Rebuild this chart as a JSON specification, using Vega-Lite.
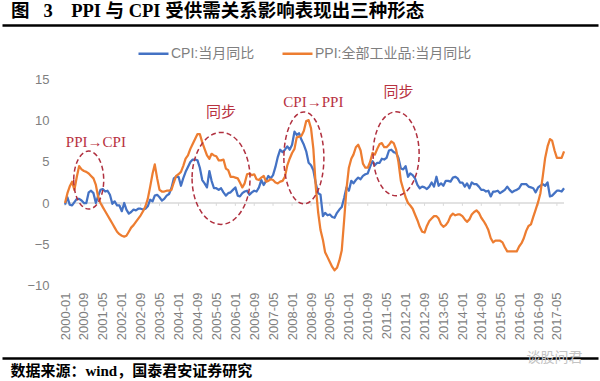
{
  "$schema": "https://vega.github.io/schema/vega-lite/v6.json",
  "width": 596,
  "height": 333,
  "autosize": {"type": "none"},
  "padding": {"left": 2, "top": 25, "right": 2, "bottom": 23},
  "background": "#ffffff",
  "title": {
    "text": "图\u2002\u00a03\u2002\u00a0\u00a0PPI 与 CPI 受供需关系影响表现出三种形态",
    "anchor": "start",
    "frame": "group",
    "dx": 9,
    "dy": 18,
    "offset": 4,
    "baseline": "bottom",
    "fontSize": 18.5,
    "font": "Liberation Serif, Noto Sans CJK SC",
    "fontWeight": "bold",
    "color": "#000000"
  },
  "config": {
    "view": {"stroke": null},
    "axis": {"grid": false}
  },
  "datasets": {
    "main": [
      {"m":"2000-01","cpi":-0.2,"ppi":0.0},{"m":"2000-02","cpi":0.7,"ppi":1.2},{"m":"2000-03","cpi":-0.2,"ppi":2.0},{"m":"2000-04","cpi":-0.3,"ppi":2.6},{"m":"2000-05","cpi":0.1,"ppi":1.6},{"m":"2000-06","cpi":0.5,"ppi":3.2},{"m":"2000-07","cpi":0.5,"ppi":4.5},{"m":"2000-08","cpi":0.3,"ppi":4.1},{"m":"2000-09","cpi":0.0,"ppi":3.9},{"m":"2000-10","cpi":0.0,"ppi":3.8},{"m":"2000-11","cpi":1.3,"ppi":3.6},{"m":"2000-12","cpi":1.5,"ppi":3.3},
      {"m":"2001-01","cpi":1.2,"ppi":3.0},{"m":"2001-02","cpi":0.0,"ppi":2.2},{"m":"2001-03","cpi":0.8,"ppi":0.8},{"m":"2001-04","cpi":1.6,"ppi":0.0},{"m":"2001-05","cpi":1.7,"ppi":-0.5},{"m":"2001-06","cpi":1.4,"ppi":-1.0},{"m":"2001-07","cpi":1.5,"ppi":-1.5},{"m":"2001-08","cpi":1.0,"ppi":-2.0},{"m":"2001-09","cpi":-0.1,"ppi":-2.5},{"m":"2001-10","cpi":0.2,"ppi":-3.0},{"m":"2001-11","cpi":-0.3,"ppi":-3.5},{"m":"2001-12","cpi":-0.3,"ppi":-3.8},
      {"m":"2002-01","cpi":-1.0,"ppi":-4.0},{"m":"2002-02","cpi":0.0,"ppi":-4.1},{"m":"2002-03","cpi":-0.8,"ppi":-4.0},{"m":"2002-04","cpi":-1.3,"ppi":-3.5},{"m":"2002-05","cpi":-1.1,"ppi":-3.0},{"m":"2002-06","cpi":-0.8,"ppi":-2.7},{"m":"2002-07","cpi":-0.9,"ppi":-2.3},{"m":"2002-08","cpi":-0.7,"ppi":-1.9},{"m":"2002-09","cpi":-0.7,"ppi":-1.5},{"m":"2002-10","cpi":-0.8,"ppi":-1.0},{"m":"2002-11","cpi":-0.7,"ppi":-0.4},{"m":"2002-12","cpi":-0.4,"ppi":0.5},
      {"m":"2003-01","cpi":0.4,"ppi":2.0},{"m":"2003-02","cpi":0.2,"ppi":3.6},{"m":"2003-03","cpi":0.9,"ppi":4.7},{"m":"2003-04","cpi":1.0,"ppi":3.0},{"m":"2003-05","cpi":0.7,"ppi":1.6},{"m":"2003-06","cpi":0.3,"ppi":1.4},{"m":"2003-07","cpi":0.5,"ppi":1.4},{"m":"2003-08","cpi":0.9,"ppi":1.5},{"m":"2003-09","cpi":1.1,"ppi":1.5},{"m":"2003-10","cpi":1.8,"ppi":1.6},{"m":"2003-11","cpi":3.0,"ppi":2.5},{"m":"2003-12","cpi":3.2,"ppi":3.3},
      {"m":"2004-01","cpi":3.2,"ppi":3.5},{"m":"2004-02","cpi":2.1,"ppi":3.8},{"m":"2004-03","cpi":3.0,"ppi":4.5},{"m":"2004-04","cpi":3.8,"ppi":5.4},{"m":"2004-05","cpi":4.4,"ppi":5.8},{"m":"2004-06","cpi":5.0,"ppi":6.6},{"m":"2004-07","cpi":5.3,"ppi":7.2},{"m":"2004-08","cpi":5.3,"ppi":7.8},{"m":"2004-09","cpi":5.2,"ppi":8.4},{"m":"2004-10","cpi":4.3,"ppi":8.4},{"m":"2004-11","cpi":2.8,"ppi":7.4},{"m":"2004-12","cpi":2.4,"ppi":6.6},
      {"m":"2005-01","cpi":1.9,"ppi":5.8},{"m":"2005-02","cpi":3.9,"ppi":5.4},{"m":"2005-03","cpi":2.7,"ppi":6.0},{"m":"2005-04","cpi":1.8,"ppi":5.8},{"m":"2005-05","cpi":1.8,"ppi":5.7},{"m":"2005-06","cpi":1.6,"ppi":5.2},{"m":"2005-07","cpi":1.8,"ppi":5.2},{"m":"2005-08","cpi":1.3,"ppi":5.3},{"m":"2005-09","cpi":0.9,"ppi":4.2},{"m":"2005-10","cpi":1.2,"ppi":4.0},{"m":"2005-11","cpi":1.3,"ppi":3.2},{"m":"2005-12","cpi":1.6,"ppi":3.2},
      {"m":"2006-01","cpi":1.9,"ppi":3.1},{"m":"2006-02","cpi":0.9,"ppi":3.0},{"m":"2006-03","cpi":0.8,"ppi":2.5},{"m":"2006-04","cpi":1.2,"ppi":1.9},{"m":"2006-05","cpi":1.4,"ppi":2.4},{"m":"2006-06","cpi":1.5,"ppi":3.5},{"m":"2006-07","cpi":1.0,"ppi":3.6},{"m":"2006-08","cpi":1.3,"ppi":3.4},{"m":"2006-09","cpi":1.5,"ppi":3.5},{"m":"2006-10","cpi":1.4,"ppi":2.9},{"m":"2006-11","cpi":1.9,"ppi":2.8},{"m":"2006-12","cpi":2.8,"ppi":3.1},
      {"m":"2007-01","cpi":2.2,"ppi":3.3},{"m":"2007-02","cpi":2.7,"ppi":2.6},{"m":"2007-03","cpi":3.3,"ppi":2.7},{"m":"2007-04","cpi":3.0,"ppi":2.9},{"m":"2007-05","cpi":3.4,"ppi":2.8},{"m":"2007-06","cpi":4.4,"ppi":2.5},{"m":"2007-07","cpi":5.6,"ppi":2.4},{"m":"2007-08","cpi":6.5,"ppi":2.6},{"m":"2007-09","cpi":6.2,"ppi":2.7},{"m":"2007-10","cpi":6.5,"ppi":3.2},{"m":"2007-11","cpi":6.9,"ppi":4.6},{"m":"2007-12","cpi":6.5,"ppi":5.4},
      {"m":"2008-01","cpi":7.1,"ppi":6.1},{"m":"2008-02","cpi":8.7,"ppi":6.6},{"m":"2008-03","cpi":8.3,"ppi":8.0},{"m":"2008-04","cpi":8.5,"ppi":8.1},{"m":"2008-05","cpi":7.7,"ppi":8.2},{"m":"2008-06","cpi":7.1,"ppi":8.8},{"m":"2008-07","cpi":6.3,"ppi":10.0},{"m":"2008-08","cpi":4.9,"ppi":10.1},{"m":"2008-09","cpi":4.6,"ppi":9.1},{"m":"2008-10","cpi":4.0,"ppi":6.6},{"m":"2008-11","cpi":2.4,"ppi":2.0},{"m":"2008-12","cpi":1.2,"ppi":-1.1},
      {"m":"2009-01","cpi":1.0,"ppi":-3.3},{"m":"2009-02","cpi":-1.6,"ppi":-4.5},{"m":"2009-03","cpi":-1.2,"ppi":-6.0},{"m":"2009-04","cpi":-1.5,"ppi":-6.6},{"m":"2009-05","cpi":-1.4,"ppi":-7.2},{"m":"2009-06","cpi":-1.7,"ppi":-7.8},{"m":"2009-07","cpi":-1.8,"ppi":-8.2},{"m":"2009-08","cpi":-1.2,"ppi":-7.9},{"m":"2009-09","cpi":-0.8,"ppi":-7.0},{"m":"2009-10","cpi":-0.5,"ppi":-5.8},{"m":"2009-11","cpi":0.6,"ppi":-2.1},{"m":"2009-12","cpi":1.9,"ppi":1.7},
      {"m":"2010-01","cpi":1.5,"ppi":4.3},{"m":"2010-02","cpi":2.7,"ppi":5.4},{"m":"2010-03","cpi":2.4,"ppi":5.9},{"m":"2010-04","cpi":2.8,"ppi":6.8},{"m":"2010-05","cpi":3.1,"ppi":7.1},{"m":"2010-06","cpi":2.9,"ppi":6.4},{"m":"2010-07","cpi":3.3,"ppi":4.8},{"m":"2010-08","cpi":3.5,"ppi":4.3},{"m":"2010-09","cpi":3.6,"ppi":4.3},{"m":"2010-10","cpi":4.4,"ppi":5.0},{"m":"2010-11","cpi":5.1,"ppi":6.1},{"m":"2010-12","cpi":4.6,"ppi":5.9},
      {"m":"2011-01","cpi":4.9,"ppi":6.6},{"m":"2011-02","cpi":4.9,"ppi":7.2},{"m":"2011-03","cpi":5.4,"ppi":7.3},{"m":"2011-04","cpi":5.3,"ppi":6.8},{"m":"2011-05","cpi":5.5,"ppi":6.8},{"m":"2011-06","cpi":6.4,"ppi":7.1},{"m":"2011-07","cpi":6.5,"ppi":7.5},{"m":"2011-08","cpi":6.2,"ppi":7.3},{"m":"2011-09","cpi":6.1,"ppi":6.5},{"m":"2011-10","cpi":5.5,"ppi":5.0},{"m":"2011-11","cpi":4.2,"ppi":2.7},{"m":"2011-12","cpi":4.1,"ppi":1.7},
      {"m":"2012-01","cpi":4.5,"ppi":0.7},{"m":"2012-02","cpi":3.2,"ppi":0.0},{"m":"2012-03","cpi":3.6,"ppi":-0.3},{"m":"2012-04","cpi":3.4,"ppi":-0.7},{"m":"2012-05","cpi":3.0,"ppi":-1.4},{"m":"2012-06","cpi":2.2,"ppi":-2.1},{"m":"2012-07","cpi":1.8,"ppi":-2.9},{"m":"2012-08","cpi":2.0,"ppi":-3.5},{"m":"2012-09","cpi":1.9,"ppi":-3.6},{"m":"2012-10","cpi":1.7,"ppi":-2.8},{"m":"2012-11","cpi":2.0,"ppi":-2.2},{"m":"2012-12","cpi":2.5,"ppi":-1.9},
      {"m":"2013-01","cpi":2.0,"ppi":-1.6},{"m":"2013-02","cpi":3.2,"ppi":-1.6},{"m":"2013-03","cpi":2.1,"ppi":-1.9},{"m":"2013-04","cpi":2.4,"ppi":-2.6},{"m":"2013-05","cpi":2.1,"ppi":-2.9},{"m":"2013-06","cpi":2.7,"ppi":-2.7},{"m":"2013-07","cpi":2.7,"ppi":-2.3},{"m":"2013-08","cpi":2.6,"ppi":-1.6},{"m":"2013-09","cpi":3.1,"ppi":-1.3},{"m":"2013-10","cpi":3.2,"ppi":-1.5},{"m":"2013-11","cpi":3.0,"ppi":-1.4},{"m":"2013-12","cpi":2.5,"ppi":-1.4},
      {"m":"2014-01","cpi":2.5,"ppi":-1.6},{"m":"2014-02","cpi":2.0,"ppi":-2.0},{"m":"2014-03","cpi":2.4,"ppi":-2.3},{"m":"2014-04","cpi":1.8,"ppi":-2.0},{"m":"2014-05","cpi":2.5,"ppi":-1.4},{"m":"2014-06","cpi":2.3,"ppi":-1.1},{"m":"2014-07","cpi":2.3,"ppi":-0.9},{"m":"2014-08","cpi":2.0,"ppi":-1.2},{"m":"2014-09","cpi":1.6,"ppi":-1.8},{"m":"2014-10","cpi":1.6,"ppi":-2.2},{"m":"2014-11","cpi":1.4,"ppi":-2.7},{"m":"2014-12","cpi":1.5,"ppi":-3.3},
      {"m":"2015-01","cpi":0.8,"ppi":-4.3},{"m":"2015-02","cpi":1.4,"ppi":-4.8},{"m":"2015-03","cpi":1.4,"ppi":-4.6},{"m":"2015-04","cpi":1.5,"ppi":-4.6},{"m":"2015-05","cpi":1.2,"ppi":-4.6},{"m":"2015-06","cpi":1.4,"ppi":-4.8},{"m":"2015-07","cpi":1.6,"ppi":-5.4},{"m":"2015-08","cpi":2.0,"ppi":-5.9},{"m":"2015-09","cpi":1.6,"ppi":-5.9},{"m":"2015-10","cpi":1.3,"ppi":-5.9},{"m":"2015-11","cpi":1.5,"ppi":-5.9},{"m":"2015-12","cpi":1.6,"ppi":-5.9},
      {"m":"2016-01","cpi":1.8,"ppi":-5.3},{"m":"2016-02","cpi":2.3,"ppi":-4.9},{"m":"2016-03","cpi":2.3,"ppi":-4.3},{"m":"2016-04","cpi":2.3,"ppi":-3.4},{"m":"2016-05","cpi":2.0,"ppi":-2.8},{"m":"2016-06","cpi":1.9,"ppi":-2.6},{"m":"2016-07","cpi":1.8,"ppi":-1.7},{"m":"2016-08","cpi":1.3,"ppi":-0.8},{"m":"2016-09","cpi":1.9,"ppi":0.1},{"m":"2016-10","cpi":2.1,"ppi":1.2},{"m":"2016-11","cpi":2.3,"ppi":3.3},{"m":"2016-12","cpi":2.1,"ppi":5.5},
      {"m":"2017-01","cpi":2.5,"ppi":6.9},{"m":"2017-02","cpi":0.8,"ppi":7.8},{"m":"2017-03","cpi":0.9,"ppi":7.6},{"m":"2017-04","cpi":1.2,"ppi":6.4},{"m":"2017-05","cpi":1.5,"ppi":5.5},{"m":"2017-06","cpi":1.5,"ppi":5.5},{"m":"2017-07","cpi":1.4,"ppi":5.5},{"m":"2017-08","cpi":1.8,"ppi":6.3}
    ],
    "lbl": [
      {"m":"2000-01"},{"m":"2000-09"},{"m":"2001-05"},{"m":"2002-01"},{"m":"2002-09"},{"m":"2003-05"},{"m":"2004-01"},{"m":"2004-09"},{"m":"2005-05"},{"m":"2006-01"},{"m":"2006-09"},{"m":"2007-05"},{"m":"2008-01"},{"m":"2008-09"},{"m":"2009-05"},{"m":"2010-01"},{"m":"2010-09"},{"m":"2011-05"},{"m":"2012-01"},{"m":"2012-09"},{"m":"2013-05"},{"m":"2014-01"},{"m":"2014-09"},{"m":"2015-05"},{"m":"2016-01"},{"m":"2016-09"},{"m":"2017-05"}
    ],
    "notes": [
      {"m":"2001-02","v":7.4,"t":"PPI→CPI"},
      {"m":"2005-07","v":11.1,"t":"同步"},
      {"m":"2008-10","v":12.3,"t":"CPI→PPI"},
      {"m":"2011-10","v":13.5,"t":"同步"}
    ],
    "span": [{"a":"2000-01","b":"2017-08"}]
  },
  "resolve": {"axis": {"x": "independent", "y": "independent"}},
  "layer": [
    {
      "data": {"name": "span"},
      "mark": {"type": "rule", "color": "#D9D9D9", "strokeWidth": 1.5},
      "encoding": {
        "x": {"field": "a", "type": "temporal",
              "scale": {"type": "utc", "domain": [{"year": 1997, "month": 10, "date": 12, "utc": true}, {"year": 2018, "month": 10, "date": 12, "utc": true}], "nice": false},
              "axis": {"orient": "bottom", "offset": 0, "domain": true, "domainColor": "#000000", "domainWidth": 2.5,
                       "ticks": false, "labels": false, "grid": false,
                       "title": "数据来源：wind，国泰君安证券研究",
                       "titleAnchor": "start", "titleAlign": "left", "titleBaseline": "top",
                       "titleX": 8, "titleY": 5,
                       "titleFontSize": 15, "titleFont": "Liberation Serif, Noto Sans CJK SC",
                       "titleFontWeight": "bold", "titleColor": "#000000"}},
        "x2": {"field": "b"},
        "y": {"datum": 0, "type": "quantitative",
              "scale": {"domain": [-18.902, 21.707], "nice": false, "zero": false},
              "axis": null}
      }
    },
    {
      "data": {"name": "lbl"},
      "mark": {"type": "rule", "color": "#D9D9D9", "strokeWidth": 1},
      "encoding": {
        "x": {"field": "m", "type": "temporal",
              "scale": {"type": "utc", "domain": [{"year": 1997, "month": 10, "date": 12, "utc": true}, {"year": 2018, "month": 10, "date": 12, "utc": true}], "nice": false},
              "axis": {"orient": "top", "offset": 0, "domain": true, "domainColor": "#000000", "domainWidth": 2.5,
                       "ticks": false, "labels": false, "grid": false,
                       "title": "谈股问君", "titleX": 524, "titleY": 332, "titleAlign": "left", "titleBaseline": "middle",
                       "titleFontSize": 14, "titleFont": "Noto Sans CJK SC", "titleFontWeight": "normal", "titleColor": "#C4C4C4"}},
        "y": {"datum": 0, "type": "quantitative",
              "scale": {"domain": [-18.902, 21.707], "nice": false, "zero": false},
              "axis": null},
        "y2": {"datum": -0.35}
      }
    },
    {
      "data": {"name": "main"},
      "transform": [{"fold": ["cpi", "ppi"], "as": ["s", "v"]}],
      "mark": {"type": "line", "strokeWidth": 2.25, "strokeJoin": "round"},
      "encoding": {
        "x": {"field": "m", "type": "temporal",
              "scale": {"type": "utc", "domain": [{"year": 1997, "month": 10, "date": 12, "utc": true}, {"year": 2018, "month": 10, "date": 12, "utc": true}], "nice": false},
              "axis": {"orient": "bottom", "offset": -67, "domain": false, "ticks": false, "grid": false,
                       "values": [
                         {"year":2000,"month":1,"date":1,"utc":true},{"year":2000,"month":9,"date":1,"utc":true},{"year":2001,"month":5,"date":1,"utc":true},
                         {"year":2002,"month":1,"date":1,"utc":true},{"year":2002,"month":9,"date":1,"utc":true},{"year":2003,"month":5,"date":1,"utc":true},
                         {"year":2004,"month":1,"date":1,"utc":true},{"year":2004,"month":9,"date":1,"utc":true},{"year":2005,"month":5,"date":1,"utc":true},
                         {"year":2006,"month":1,"date":1,"utc":true},{"year":2006,"month":9,"date":1,"utc":true},{"year":2007,"month":5,"date":1,"utc":true},
                         {"year":2008,"month":1,"date":1,"utc":true},{"year":2008,"month":9,"date":1,"utc":true},{"year":2009,"month":5,"date":1,"utc":true},
                         {"year":2010,"month":1,"date":1,"utc":true},{"year":2010,"month":9,"date":1,"utc":true},{"year":2011,"month":5,"date":1,"utc":true},
                         {"year":2012,"month":1,"date":1,"utc":true},{"year":2012,"month":9,"date":1,"utc":true},{"year":2013,"month":5,"date":1,"utc":true},
                         {"year":2014,"month":1,"date":1,"utc":true},{"year":2014,"month":9,"date":1,"utc":true},{"year":2015,"month":5,"date":1,"utc":true},
                         {"year":2016,"month":1,"date":1,"utc":true},{"year":2016,"month":9,"date":1,"utc":true},{"year":2017,"month":5,"date":1,"utc":true}
                       ],
                       "labelExpr": "utcFormat(datum.value, '%Y-%m')",
                       "labelAngle": -90, "labelPadding": 1, "labelOverlap": false, "labelFlush": false,
                       "labelFontSize": 13, "labelFont": "Liberation Sans", "labelColor": "#7F7F7F",
                       "title": null}},
        "y": {"field": "v", "type": "quantitative",
              "scale": {"domain": [-18.902, 21.707], "nice": false, "zero": false},
              "axis": {"orient": "left", "values": [-10, -5, 0, 5, 10, 15], "domain": false, "ticks": false, "grid": false,
                       "offset": -50, "labelPadding": 3, "labelFontSize": 13, "labelFont": "Liberation Sans",
                       "labelColor": "#7F7F7F", "labelFlush": false, "title": null}},
        "color": {"field": "s", "type": "nominal",
                  "scale": {"domain": ["cpi", "ppi"], "range": ["#4472C4", "#ED7D31"]},
                  "legend": {"orient": "none", "legendX": 135, "legendY": 12, "direction": "horizontal",
                             "title": null, "symbolType": "stroke", "symbolSize": 900, "symbolStrokeWidth": 2.5,
                             "labelFontSize": 14, "labelFont": "Liberation Sans, Noto Sans CJK SC",
                             "labelColor": "#7F7F7F", "labelOffset": 1, "columnPadding": 22,
                             "labelExpr": "datum.label == 'cpi' ? 'CPI:当月同比' : 'PPI:全部工业品:当月同比'"}}
      }
    },
    {
      "data": {"values": [{"m": "2000-11", "v": 2.8}]},
      "mark": {"type": "point", "shape": "M-0.517,0A0.517,1 0 1,0 0.517,0A0.517,1 0 1,0 -0.517,0Z",
               "size": 3364, "filled": false, "color": "#B0303F", "strokeWidth": 1.5, "strokeDash": [5, 3], "opacity": 1},
      "encoding": {
        "x": {"field": "m", "type": "temporal", "scale": {"type": "utc", "domain": [{"year": 1997, "month": 10, "date": 12, "utc": true}, {"year": 2018, "month": 10, "date": 12, "utc": true}], "nice": false}, "axis": null},
        "y": {"field": "v", "type": "quantitative", "scale": {"domain": [-18.902, 21.707], "nice": false, "zero": false}, "axis": null}
      }
    },
    {
      "data": {"values": [{"m": "2005-07", "v": 3.0}]},
      "mark": {"type": "point", "shape": "M-0.63,0A0.63,1 0 1,0 0.63,0A0.63,1 0 1,0 -0.63,0Z",
               "size": 8464, "filled": false, "color": "#B0303F", "strokeWidth": 1.5, "strokeDash": [5, 3], "opacity": 1},
      "encoding": {
        "x": {"field": "m", "type": "temporal", "scale": {"type": "utc", "domain": [{"year": 1997, "month": 10, "date": 12, "utc": true}, {"year": 2018, "month": 10, "date": 12, "utc": true}], "nice": false}, "axis": null},
        "y": {"field": "v", "type": "quantitative", "scale": {"domain": [-18.902, 21.707], "nice": false, "zero": false}, "axis": null}
      }
    },
    {
      "data": {"values": [{"m": "2008-06", "v": 5.5}]},
      "mark": {"type": "point", "shape": "M-0.435,0A0.435,1 0 1,0 0.435,0A0.435,1 0 1,0 -0.435,0Z",
               "size": 8464, "filled": false, "color": "#B0303F", "strokeWidth": 1.5, "strokeDash": [5, 3], "opacity": 1},
      "encoding": {
        "x": {"field": "m", "type": "temporal", "scale": {"type": "utc", "domain": [{"year": 1997, "month": 10, "date": 12, "utc": true}, {"year": 2018, "month": 10, "date": 12, "utc": true}], "nice": false}, "axis": null},
        "y": {"field": "v", "type": "quantitative", "scale": {"domain": [-18.902, 21.707], "nice": false, "zero": false}, "axis": null}
      }
    },
    {
      "data": {"values": [{"m": "2011-09", "v": 6.0}]},
      "mark": {"type": "point", "shape": "M-0.548,0A0.548,1 0 1,0 0.548,0A0.548,1 0 1,0 -0.548,0Z",
               "size": 7056, "filled": false, "color": "#B0303F", "strokeWidth": 1.5, "strokeDash": [5, 3], "opacity": 1},
      "encoding": {
        "x": {"field": "m", "type": "temporal", "scale": {"type": "utc", "domain": [{"year": 1997, "month": 10, "date": 12, "utc": true}, {"year": 2018, "month": 10, "date": 12, "utc": true}], "nice": false}, "axis": null},
        "y": {"field": "v", "type": "quantitative", "scale": {"domain": [-18.902, 21.707], "nice": false, "zero": false}, "axis": null}
      }
    },
    {
      "data": {"name": "notes"},
      "mark": {"type": "text", "font": "Liberation Serif, Noto Sans CJK SC", "fontSize": 15, "color": "#B8323F",
               "align": "center", "baseline": "middle"},
      "encoding": {
        "x": {"field": "m", "type": "temporal", "scale": {"type": "utc", "domain": [{"year": 1997, "month": 10, "date": 12, "utc": true}, {"year": 2018, "month": 10, "date": 12, "utc": true}], "nice": false}, "axis": null},
        "y": {"field": "v", "type": "quantitative", "scale": {"domain": [-18.902, 21.707], "nice": false, "zero": false}, "axis": null},
        "text": {"field": "t", "type": "nominal"}
      }
    }
  ]
}
